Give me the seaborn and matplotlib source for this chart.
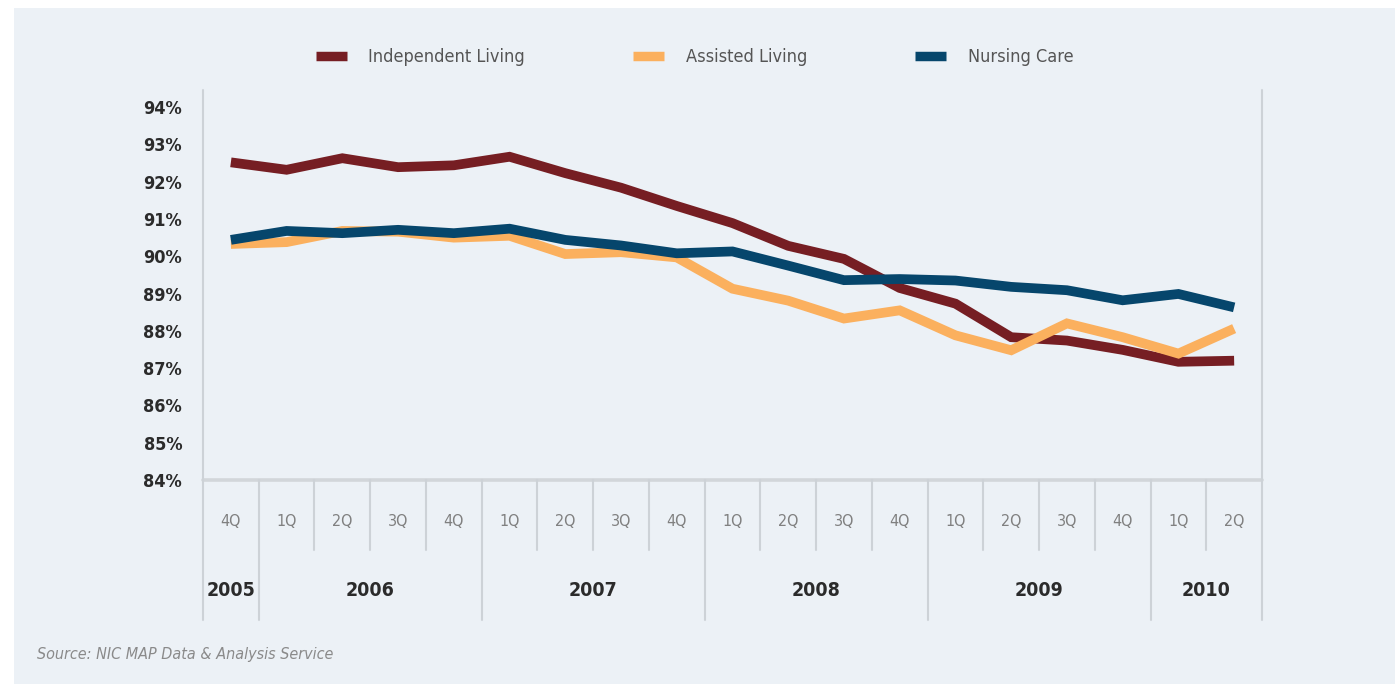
import numpy as np
import pandas as pd
import matplotlib
matplotlib.use("Agg")
import matplotlib.pyplot as plt
from matplotlib.lines import Line2D
from matplotlib.patches import Rectangle
import matplotlib.transforms as mtransforms
import seaborn as sns

# ---------------- data ----------------
quarters = ["4Q", "1Q", "2Q", "3Q", "4Q", "1Q", "2Q", "3Q", "4Q", "1Q",
            "2Q", "3Q", "4Q", "1Q", "2Q", "3Q", "4Q", "1Q", "2Q"]
point_years = ["2005", "2006", "2006", "2006", "2006", "2007", "2007", "2007", "2007",
               "2008", "2008", "2008", "2008", "2009", "2009", "2009", "2009", "2010", "2010"]
independent_living = [92.52, 92.32, 92.63, 92.39, 92.44, 92.67, 92.23, 91.84, 91.35, 90.89,
                      90.28, 89.93, 89.15, 88.73, 87.83, 87.74, 87.49, 87.17, 87.20]
assisted_living = [90.33, 90.38, 90.68, 90.66, 90.50, 90.55, 90.06, 90.11, 89.97, 89.13,
                   88.81, 88.33, 88.55, 87.88, 87.48, 88.20, 87.83, 87.39, 88.06]
nursing_care = [90.44, 90.68, 90.62, 90.71, 90.62, 90.74, 90.44, 90.29, 90.08, 90.13,
                89.75, 89.36, 89.39, 89.35, 89.18, 89.09, 88.82, 88.99, 88.63]
series_names = ["Independent Living", "Assisted Living", "Nursing Care"]
y_ticks = [84, 85, 86, 87, 88, 89, 90, 91, 92, 93, 94]
source_text = "Source: NIC MAP Data & Analysis Service"

colors = ["#761E23", "#FBB05E", "#06466C"]
BG = "#ECF1F6"

n = len(quarters)
df = pd.DataFrame({
    "idx": list(range(n)) * 3,
    "value": independent_living + assisted_living + nursing_care,
    "series": sum([[s] * n for s in series_names], []),
})

sns.set_theme(style="white")
plt.rcParams["font.family"] = ["Liberation Sans Narrow", "DejaVu Sans"]
plt.rcParams["font.stretch"] = "condensed"

W, H = 1395, 684
fig = plt.figure(figsize=(W / 100, H / 100), dpi=100, facecolor="white")
fig.patches.append(Rectangle((14 / W, 0), 1 - 14 / W, 1 - 8 / H, transform=fig.transFigure,
                             facecolor=BG, edgecolor="none", zorder=-10))

ax_l, ax_r, ax_t, ax_b = 203, 1262, 90, 480
ax = fig.add_axes([ax_l / W, 1 - ax_b / H, (ax_r - ax_l) / W, (ax_b - ax_t) / H])
ax.set_zorder(1)
ax.set_facecolor(BG)

sns.lineplot(data=df, x="idx", y="value", hue="series", hue_order=series_names,
             palette=colors, linewidth=7.0, ax=ax, legend=False, sort=False,
             solid_joinstyle="miter", solid_capstyle="butt")

ax.set_xlim(-0.5, n - 0.5)
ax.set_ylim(84, 94.46)
ax.set_yticks(y_ticks)
ax.set_yticklabels([f"{v}%" for v in y_ticks], fontsize=13, fontweight="bold",
                   color="#2b2b2b")
ax.tick_params(axis="y", length=0, pad=15)
ax.set_xticks([])
ax.set_xlabel("")
ax.set_ylabel("")
for s in ax.spines.values():
    s.set_visible(False)

axh = ax_b - ax_t
def ay(ypix):
    return (ax_b - ypix) / axh

trans = mtransforms.blended_transform_factory(ax.transData, ax.transAxes)
gray = "#CDD2D7"

# bottom axis line
ax.plot([-0.5, n - 0.5], [0, 0], transform=trans, color="#D2D6DA", lw=2.6, clip_on=False)

# separators
for i in range(n + 1):
    x = i - 0.5
    is_year = i == 0 or i == n or (point_years[i] != point_years[i - 1])
    y0 = 1.0 if (i == 0 or i == n) else 0.0
    y1 = ay(620) if is_year else ay(550)
    ax.plot([x, x], [y0, y1], transform=trans, color=gray, lw=1.5, clip_on=False)

# quarter labels
for i, q in enumerate(quarters):
    ax.text(i, ay(521), q, transform=trans, ha="center", va="center",
            fontsize=11.5, color="#808080")

# year labels
years_unique = []
for y in point_years:
    if y not in years_unique:
        years_unique.append(y)
for yr in years_unique:
    idxs = [i for i, p in enumerate(point_years) if p == yr]
    ax.text(np.mean(idxs), ay(590), yr, transform=trans, ha="center", va="center",
            fontsize=14, fontweight="bold", color="#2b2b2b")

# legend
handles = [Line2D([0], [0], color=c, lw=6.8, solid_capstyle="butt") for c in colors]
fig.legend(handles, series_names, loc="center", bbox_to_anchor=(0.498, 1 - 57 / H),
           ncol=3, frameon=False, fontsize=13, handlelength=1.7, handletextpad=1.2,
           columnspacing=6.0, labelcolor="#555555")

fig.text(37 / W, 1 - 655 / H, source_text, fontsize=11.5, style="italic",
         color="#8a8a8a", ha="left", va="center")

fig.savefig("out.png", dpi=100, facecolor=fig.get_facecolor())
